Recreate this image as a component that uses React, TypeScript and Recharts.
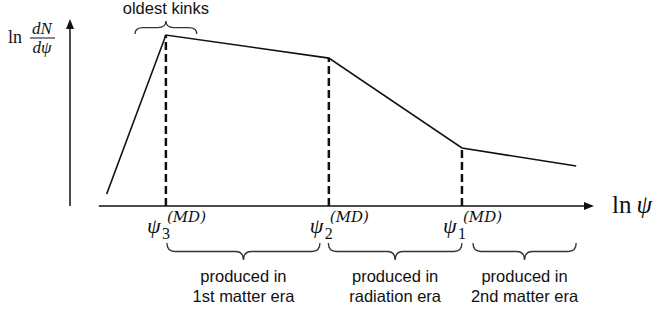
import { LineChart, Line, XAxis, YAxis, ReferenceLine } from 'recharts'

// schematic kink spectrum: ln(dN/dψ) vs ln ψ (arbitrary units)
const lnPsi = [0.7, 1.83, 4.94, 7.48, 9.66]
const lnDNdPsi = [0.64, 9.14, 7.91, 3.1, 2.14]

// break points ψ_3, ψ_2, ψ_1 sit at points 1..3 of the curve
const kneeIndex = [1, 2, 3]
const kneeSubscripts = ['3', '2', '1']
const kneeSuperscript = '(MD)'

const eraFrom = [1.85, 4.93, 7.69]
const eraTo = [4.77, 7.48, 9.66]
const eraLine1 = ['produced in', 'produced in', 'produced in']
const eraLine2 = ['1st matter era', 'radiation era', '2nd matter era']

const oldestFrom = 1.24
const oldestTo = 2.42
const oldestLabel = 'oldest kinks'

const axisFrom = 0.55
const xDomain = [0, 10]
const yDomain = [0, 10]

const data = lnPsi.map((x, i) => ({ x, y: lnDNdPsi[i] }))

const ink = '#111'
const serif = '"Liberation Serif", "DejaVu Serif", serif'
const mathSerif = '"DejaVu Serif", "Liberation Serif", serif'
const sans = '"Liberation Sans", Arial, sans-serif'

function bracePath(x1: number, x2: number, y: number, h: number, dir: number) {
  const xm = (x1 + x2) / 2
  const r = Math.min(8, (x2 - x1) / 4)
  const ym = y + (dir * h) / 2
  const yt = y + dir * h
  return (
    `M${x1},${y} Q${x1},${ym} ${x1 + r},${ym} L${xm - r},${ym} ` +
    `Q${xm},${ym} ${xm},${yt} Q${xm},${ym} ${xm + r},${ym} ` +
    `L${x2 - r},${ym} Q${x2},${ym} ${x2},${y}`
  )
}

const XArrow = (p: any) => {
  const { x1, y1, x2, y2 } = p
  return (
    <g>
      <line x1={x1} y1={y1} x2={x2 - 8} y2={y2} stroke={ink} strokeWidth={1.5} />
      <polygon points={`${x2},${y2} ${x2 - 10},${y2 - 4} ${x2 - 10},${y2 + 4}`} fill={ink} />
      <text x={x2 + 18} y={y2 + 7} fontFamily={serif} fontSize={25} fill={ink}>
        ln
        <tspan dx={5} fontStyle="italic">ψ</tspan>
      </text>
    </g>
  )
}

const YArrow = (p: any) => {
  const { x1, y1, x2, y2 } = p
  return (
    <g>
      <line x1={x1} y1={y1} x2={x2} y2={y2 + 8} stroke={ink} strokeWidth={1.5} />
      <polygon points={`${x2},${y2} ${x2 - 4},${y2 + 10} ${x2 + 4},${y2 + 10}`} fill={ink} />
      <text x={x2 - 62} y={y2 + 24} fontFamily={serif} fontSize={18} fill={ink}>
        ln
      </text>
      <text x={x2 - 28} y={y2 + 15} textAnchor="middle" fontFamily={serif} fontStyle="italic" fontSize={17} fill={ink}>
        dN
      </text>
      <line x1={x2 - 40} y1={y2 + 19} x2={x2 - 15} y2={y2 + 19} stroke={ink} strokeWidth={1} />
      <text x={x2 - 28} y={y2 + 34} textAnchor="middle" fontFamily={serif} fontStyle="italic" fontSize={17} fill={ink}>
        dψ
      </text>
    </g>
  )
}

const kneeShape = (sub: string) => (p: any) => {
  const { x1, y1, x2, y2 } = p
  const ax = Math.max(y1, y2)
  return (
    <g>
      <line x1={x1} y1={y1} x2={x2} y2={y2} stroke={ink} strokeWidth={2.5} strokeDasharray="8 4" />
      <text x={x1 - 19} y={ax + 27} fontFamily={serif} fontStyle="italic" fontSize={22} fill={ink}>
        ψ
      </text>
      <text x={x1 - 4} y={ax + 33} fontFamily={serif} fontSize={16} fill={ink}>
        {sub}
      </text>
      <text x={x1 + 1} y={ax + 16} fontFamily={mathSerif} fontStyle="italic" fontSize={15} fill={ink}>
        {kneeSuperscript}
      </text>
    </g>
  )
}

const eraShape = (l1: string, l2: string) => (p: any) => {
  const { x1, y1, x2 } = p
  const xm = (x1 + x2) / 2
  return (
    <g>
      <path d={bracePath(x1, x2, y1 + 37, 17, 1)} fill="none" stroke="#333" strokeWidth={1.3} />
      <text x={xm} y={y1 + 76} textAnchor="middle" fontFamily={sans} fontSize={16.5} fill={ink}>
        {l1}
      </text>
      <text x={xm} y={y1 + 96} textAnchor="middle" fontFamily={sans} fontSize={16.5} fill={ink}>
        {l2}
      </text>
    </g>
  )
}

const OldestShape = (p: any) => {
  const { x1, y1, x2 } = p
  return (
    <g>
      <path d={bracePath(x1, x2, y1 - 1, 13, -1)} fill="none" stroke="#333" strokeWidth={1.3} />
      <text x={(x1 + x2) / 2} y={y1 - 21} textAnchor="middle" fontFamily={sans} fontSize={16.5} fill={ink}>
        {oldestLabel}
      </text>
    </g>
  )
}

export default function App() {
  return (
    <div style={{ position: 'absolute', left: 0, top: 0, width: 660, height: 313, background: '#fff' }}>
      <LineChart width={660} height={313} data={data} margin={{ top: 19, right: 66, bottom: 107, left: 70 }}>
        <XAxis type="number" dataKey="x" domain={xDomain} hide />
        <YAxis type="number" domain={yDomain} hide width={0} />
        <ReferenceLine segment={[{ x: 0, y: 0 }, { x: 0, y: yDomain[1] }]} shape={YArrow} />
        <ReferenceLine segment={[{ x: axisFrom, y: 0 }, { x: xDomain[1], y: 0 }]} shape={XArrow} />
        {kneeIndex.map((k, i) => (
          <ReferenceLine
            key={`knee-${k}`}
            segment={[{ x: lnPsi[k], y: 0 }, { x: lnPsi[k], y: lnDNdPsi[k] }]}
            shape={kneeShape(kneeSubscripts[i])}
          />
        ))}
        {eraFrom.map((from, i) => (
          <ReferenceLine
            key={`era-${i}`}
            segment={[{ x: from, y: 0 }, { x: eraTo[i], y: 0 }]}
            shape={eraShape(eraLine1[i], eraLine2[i])}
          />
        ))}
        <ReferenceLine
          segment={[{ x: oldestFrom, y: lnDNdPsi[1] }, { x: oldestTo, y: lnDNdPsi[1] }]}
          shape={OldestShape}
        />
        <Line
          dataKey="y"
          type="linear"
          stroke={ink}
          strokeWidth={1.6}
          dot={false}
          isAnimationActive={false}
        />
      </LineChart>
    </div>
  )
}
